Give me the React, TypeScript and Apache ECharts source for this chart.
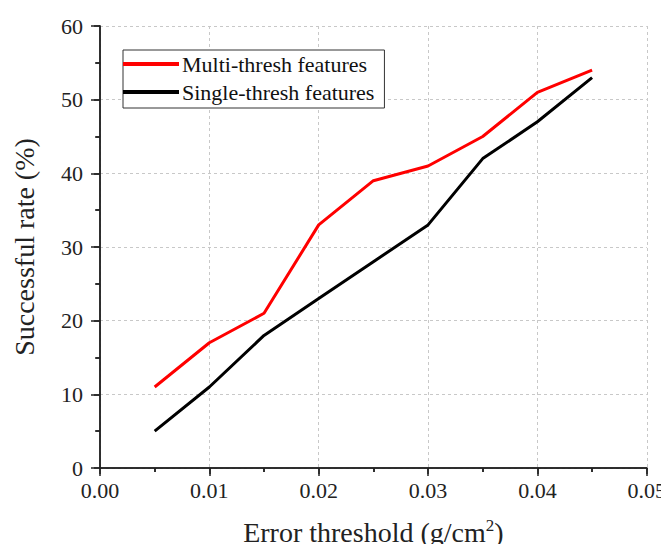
import React, { useEffect, useRef } from "react";
import * as echarts from "echarts";

const xValues = [0.005, 0.01, 0.015, 0.02, 0.025, 0.03, 0.035, 0.04, 0.045];
const multiThresh = [11, 17, 21, 33, 39, 41, 45, 51, 54];
const singleThresh = [5, 11, 18, 23, 28, 33, 42, 47, 53];
const seriesNames = ["Multi-thresh features", "Single-thresh features"];

const FONT = "'Liberation Serif', 'Times New Roman', serif";

export default function App() {
  const ref = useRef<HTMLDivElement>(null);
  useEffect(() => {
    if (!ref.current) return;
    const chart = echarts.init(ref.current, null, { renderer: "svg" });
    const axisLine = { show: true, lineStyle: { color: "#222", width: 1.5 } };
    const splitLine = { show: true, lineStyle: { color: "#c8c8c8", type: [3, 3], width: 1 } };
    chart.setOption({
      animation: false,
      backgroundColor: "#fff",
      textStyle: { fontFamily: FONT },
      grid: { left: 100, right: 19, top: 26, bottom: 84, containLabel: false },
      legend: {
        left: 123,
        top: 50,
        orient: "vertical",
        itemWidth: 56,
        itemHeight: 4,
        itemGap: 6,
        padding: [3, 10, 5, 0],
        borderColor: "#333",
        borderWidth: 1,
        backgroundColor: "#fff",
        icon: "rect",
        textStyle: { fontFamily: FONT, fontSize: 22, color: "#111", padding: [0, 0, 0, -2] },
        data: seriesNames,
      },
      xAxis: [
        {
          type: "value",
          min: 0,
          max: 0.05,
          interval: 0.01,
          position: "bottom",
          axisLine,
          axisTick: { show: true, inside: false, length: 8, lineStyle: { color: "#222", width: 1.5 } },
          minorTick: { show: true, splitNumber: 2, length: 4, lineStyle: { color: "#222", width: 1.5 } },
          splitLine,
          axisLabel: {
            fontFamily: FONT,
            fontSize: 22,
            color: "#222",
            margin: 11,
            formatter: (v: number) => v.toFixed(2),
          },
          name: "{a|Error threshold (g/cm}{b|2}{a|)}",
          nameLocation: "middle",
          nameGap: 49,
          nameTextStyle: {
            rich: {
              a: { fontFamily: FONT, fontSize: 28, color: "#222" },
              b: { fontFamily: FONT, fontSize: 17, color: "#222", verticalAlign: "top", padding: [0, 0, 14, 0] },
            },
          },
        },
        {
          type: "value",
          min: 0,
          max: 0.05,
          interval: 0.01,
          position: "top",
          axisLine,
          axisTick: { show: true, inside: true, length: 6, lineStyle: { color: "#222", width: 1.5 } },
          minorTick: { show: true, splitNumber: 2, length: 4, lineStyle: { color: "#222", width: 1.5 } },
          splitLine: { show: false },
          axisLabel: { show: false },
        },
      ],
      yAxis: [
        {
          type: "value",
          min: 0,
          max: 60,
          interval: 10,
          position: "left",
          axisLine,
          axisTick: { show: true, inside: false, length: 9, lineStyle: { color: "#222", width: 1.5 } },
          minorTick: { show: true, splitNumber: 2, length: 5, lineStyle: { color: "#222", width: 1.5 } },
          splitLine,
          axisLabel: { fontFamily: FONT, fontSize: 22, color: "#222", margin: 17 },
          name: "Successful rate (%)",
          nameLocation: "middle",
          nameGap: 62,
          nameTextStyle: { fontFamily: FONT, fontSize: 28, color: "#222" },
        },
        {
          type: "value",
          min: 0,
          max: 60,
          interval: 10,
          position: "right",
          axisLine,
          axisTick: { show: true, inside: true, length: 6, lineStyle: { color: "#222", width: 1.5 } },
          minorTick: { show: true, splitNumber: 2, length: 4, lineStyle: { color: "#222", width: 1.5 } },
          splitLine: { show: false },
          axisLabel: { show: false },
        },
      ],
      series: [
        {
          name: seriesNames[0],
          type: "line",
          data: xValues.map((x, i) => [x, multiThresh[i]]),
          showSymbol: false,
          symbol: "none",
          lineStyle: { color: "#ff0000", width: 3 },
          itemStyle: { color: "#ff0000" },
        },
        {
          name: seriesNames[1],
          type: "line",
          data: xValues.map((x, i) => [x, singleThresh[i]]),
          showSymbol: false,
          symbol: "none",
          lineStyle: { color: "#000000", width: 3 },
          itemStyle: { color: "#000000" },
        },
      ],
    });
    return () => chart.dispose();
  }, []);
  return <div ref={ref} style={{ width: 669, height: 552, margin: -8 }} />;
}
